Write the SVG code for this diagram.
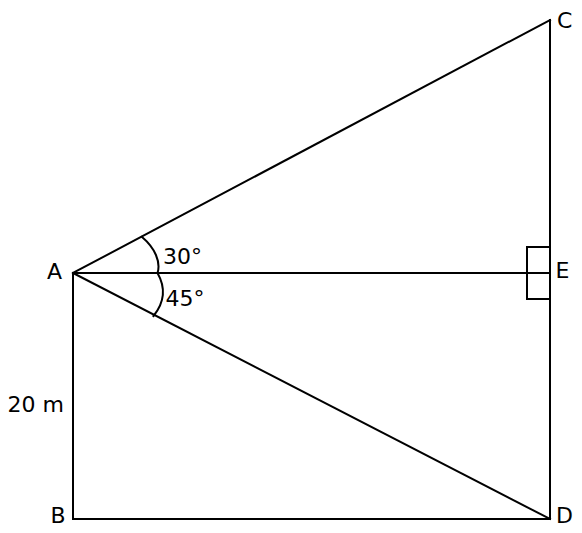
<svg xmlns="http://www.w3.org/2000/svg" width="582" height="533" viewBox="0 0 582 533">
<style>
.ln{stroke:#000;stroke-width:2;fill:none;stroke-linecap:square}
.lb{font-family:"DejaVu Sans",Verdana,sans-serif;font-size:22px;fill:#000}
</style>
<rect width="582" height="533" fill="#fff"/>
<g id="connectors">
<line class="ln" x1="73" y1="273" x2="550" y2="20"/>
<line class="ln" x1="73" y1="273" x2="550" y2="273"/>
<line class="ln" x1="73" y1="273" x2="550" y2="519"/>
<line class="ln" x1="73" y1="273" x2="73" y2="519"/>
<line class="ln" x1="73" y1="519" x2="550" y2="519"/>
<line class="ln" x1="550" y1="20" x2="550" y2="519"/>
</g>
<g id="right-angle-E">
<rect class="ln" x="527" y="247" width="23" height="52"/>
</g>
<g id="angle-30">
<path class="ln" d="M142,237 C155,248 161,262 157.5,273"/>
<text class="lb" x="163" y="264">30°</text>
</g>
<g id="angle-45">
<path class="ln" d="M157.5,273 C166,288 164,303 153.5,316"/>
<text class="lb" x="165.5" y="306">45°</text>
</g>
<g id="node-A"><text class="lb" x="47" y="279">A</text></g>
<g id="node-B"><text class="lb" x="50.5" y="523">B</text></g>
<g id="node-C"><text class="lb" x="557" y="28">C</text></g>
<g id="node-D"><text class="lb" x="556" y="523">D</text></g>
<g id="node-E"><text class="lb" x="555.5" y="278">E</text></g>
<g id="label-AB"><text class="lb" x="7.5" y="412">20 m</text></g>
</svg>
